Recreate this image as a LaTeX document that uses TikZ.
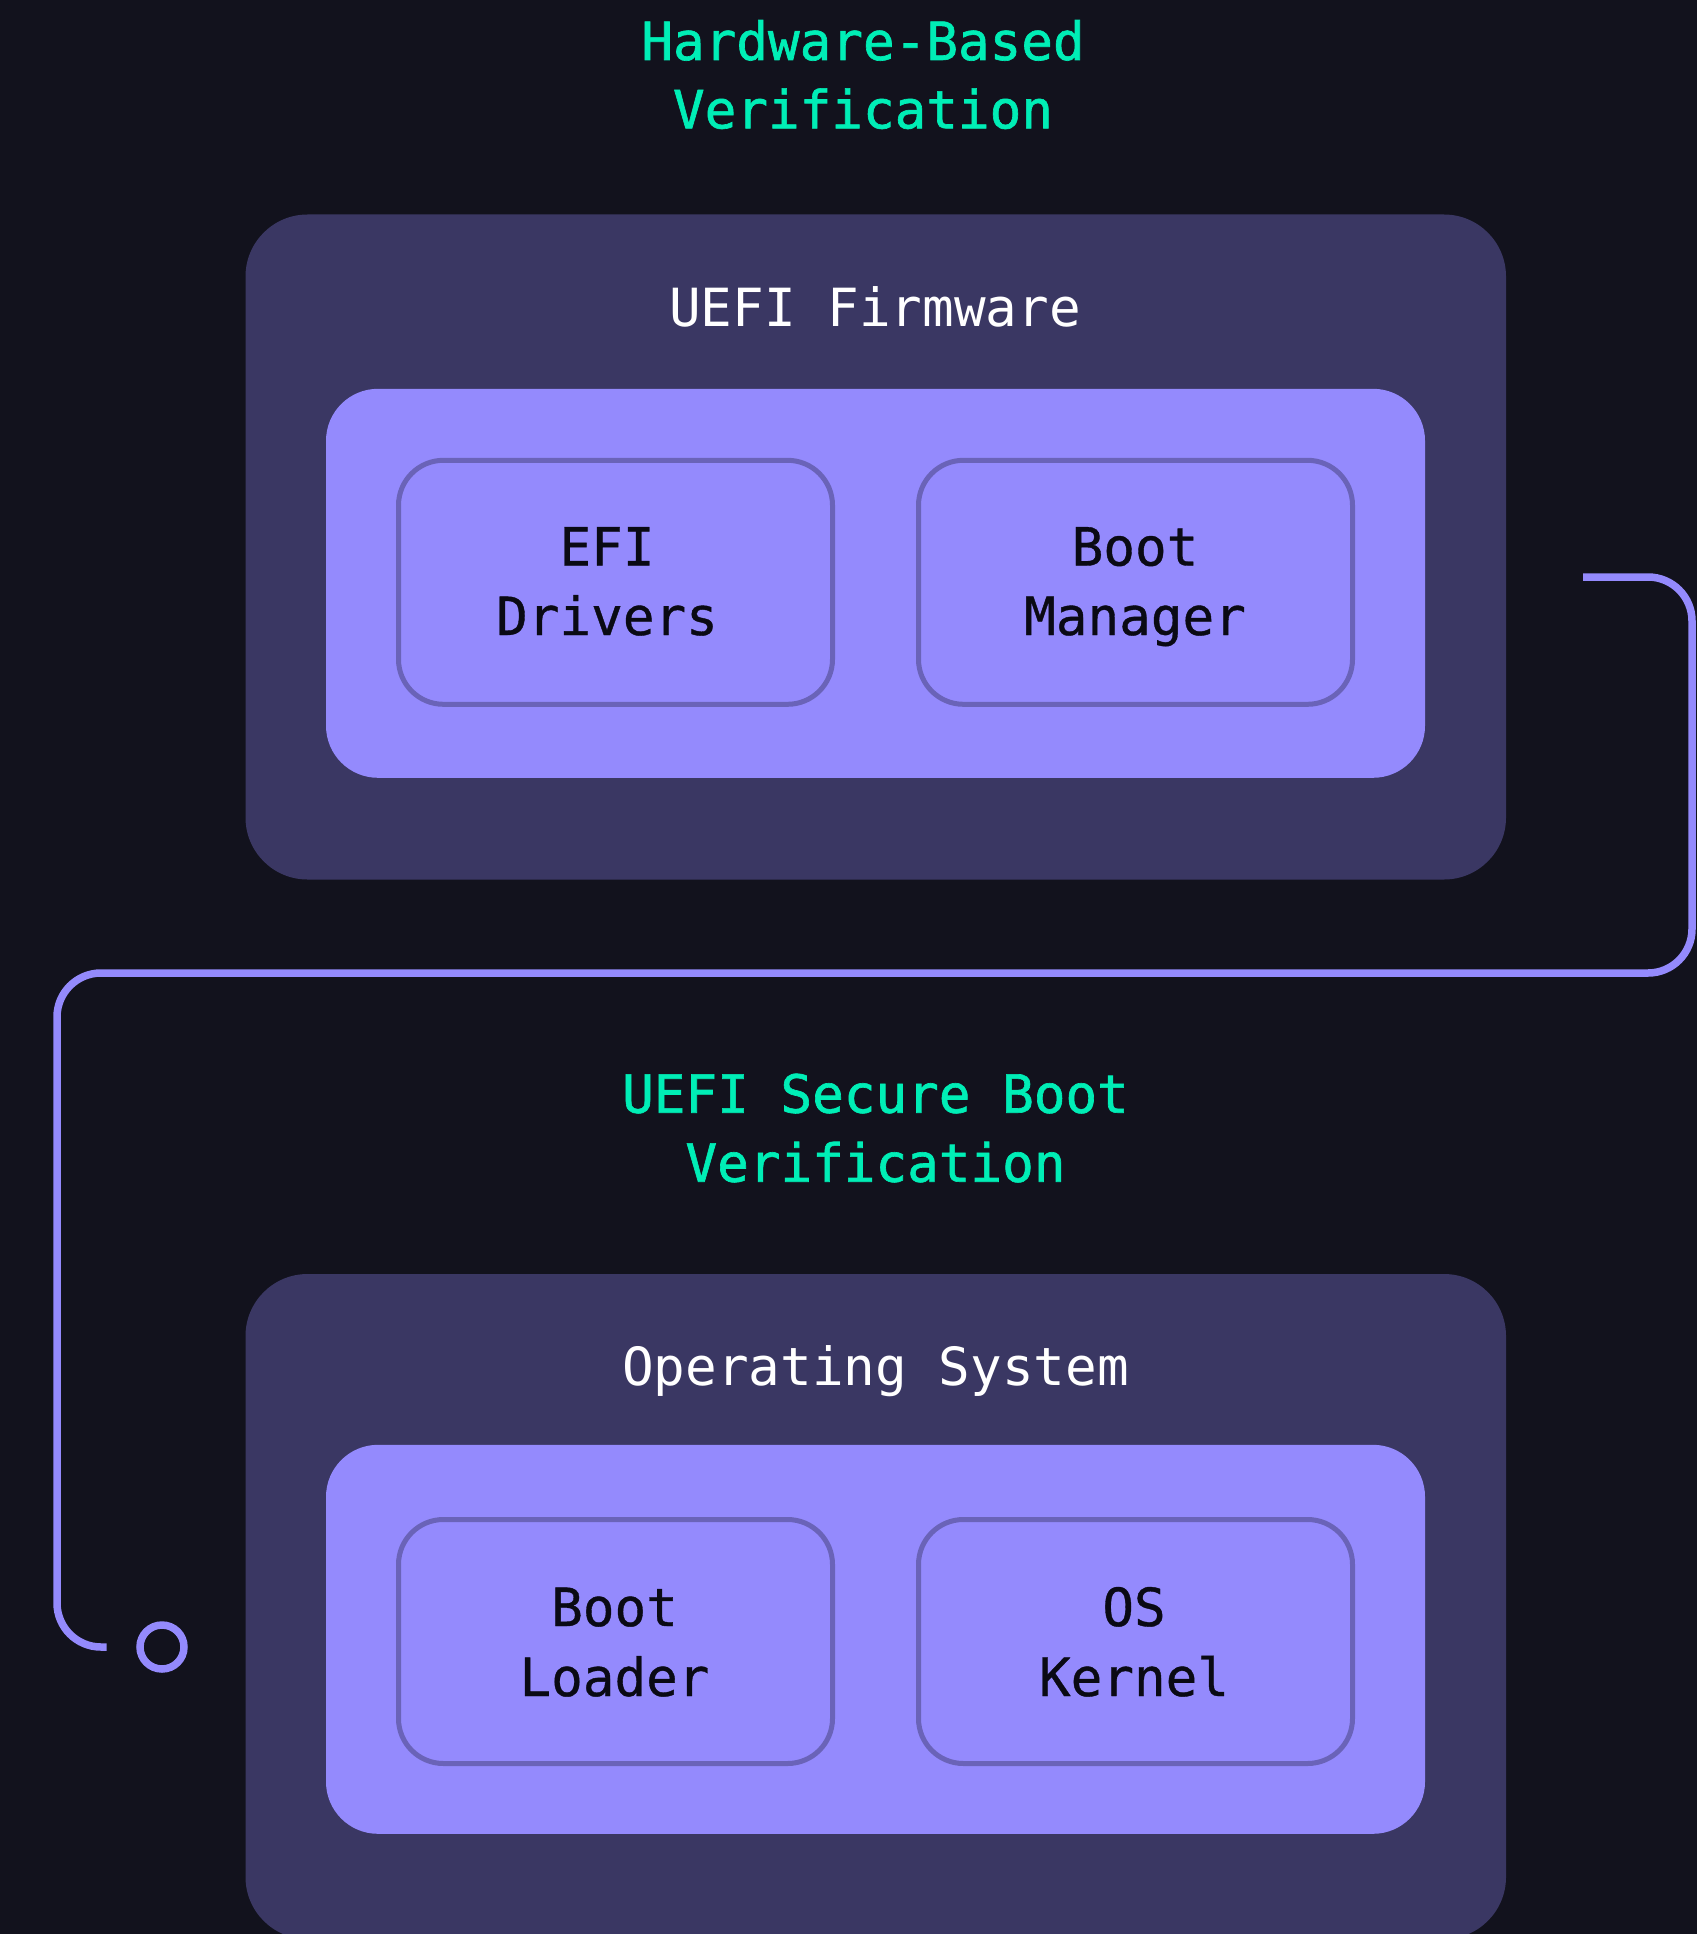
\documentclass[tikz,border=0pt]{standalone}
\usepackage{fontspec}
\newfontfamily\monof{DejaVu Sans Mono}
\newfontfamily\monofh[FakeBold=1.2]{DejaVu Sans Mono}
\newfontfamily\monofm[FakeBold=0.7]{DejaVu Sans Mono}
\definecolor{bgc}{RGB}{18,18,29}
\definecolor{outerc}{RGB}{58,55,99}
\definecolor{innerc}{RGB}{148,138,253}
\definecolor{smallc}{RGB}{106,99,184}
\definecolor{greenc}{RGB}{0,238,182}
\definecolor{darkc}{RGB}{10,10,20}
\tikzset{
  outerbox/.style={fill=outerc, rounded corners=62pt, minimum width=1260.5pt, minimum height=665pt, inner sep=0pt},
  innerbox/.style={fill=innerc, rounded corners=52pt, minimum width=1099pt, minimum height=389pt, inner sep=0pt},
  smallbox/.style={fill=innerc, draw=smallc, line width=5pt, rounded corners=45pt, minimum width=434pt, minimum height=244pt, inner sep=0pt},
  txt/.style={anchor=base, inner sep=0pt},
  headtxt/.style={txt, text=greenc, font=\monofh\fontsize{52.6}{69}\selectfont},
  titletxt/.style={txt, text=white, font=\monof\fontsize{52.6}{69}\selectfont},
  boxtxt/.style={txt, text=darkc, font=\monofm\fontsize{52.6}{69}\selectfont},
  conn/.style={draw=innerc, line width=7.5pt, rounded corners=44pt, line cap=butt},
  endmark/.style={circle, draw=innerc, line width=7.5pt, minimum size=44pt, inner sep=0pt}
}
\begin{document}
\begin{tikzpicture}[x=1pt,y=-1pt]
\useasboundingbox (0,0) rectangle (1696,1934);
\fill[bgc] (-10,-10) rectangle (1706,1944);
\begin{scope}
\clip (-10,-10) rectangle (1706,1944);
% headers
\node[headtxt] (h1a) at (863,60) {Hardware-Based};
\node[headtxt] (h1b) at (863,128.3) {Verification};
% top group
\node[outerbox] (fw) at (875.75,547) {};
\node[titletxt] (fwt) at (875,326.7) {UEFI Firmware};
\node[innerbox] (fwin) at (875.5,583.3) {};
\node[smallbox] (efi) at (615.5,582.3) {};
\node[smallbox] (bm) at (1135.5,582.3) {};
\node[boxtxt] (efia) at (607,565.5) {EFI};
\node[boxtxt] (efib) at (607,635) {Drivers};
\node[boxtxt] (bma) at (1135,565.5) {Boot};
\node[boxtxt] (bmb) at (1135,635) {Manager};
% middle header
\node[headtxt] (h2a) at (875.5,1112.7) {UEFI Secure Boot};
\node[headtxt] (h2b) at (875.5,1181.7) {Verification};
% bottom group
\node[outerbox] (os) at (875.75,1606.5) {};
\node[titletxt] (ost) at (875.5,1385) {Operating System};
\node[innerbox] (osin) at (875.5,1639.3) {};
\node[smallbox] (bl) at (615.5,1641.5) {};
\node[smallbox] (kn) at (1135.5,1641.5) {};
\node[boxtxt] (bla) at (614.5,1626) {Boot};
\node[boxtxt] (blb) at (614.5,1696) {Loader};
\node[boxtxt] (kna) at (1134,1626) {OS};
\node[boxtxt] (knb) at (1134,1696) {Kernel};
% connector
\coordinate (cstart) at (1583,577);
\coordinate (cend) at (106.7,1647);
\node[endmark] (mark) at (162,1647) {};
\draw[conn] (cstart) -- (1692,577) -- (1692,973) -- (57,973) -- (57,1647) -- (cend);
\end{scope}
\end{tikzpicture}
\end{document}
